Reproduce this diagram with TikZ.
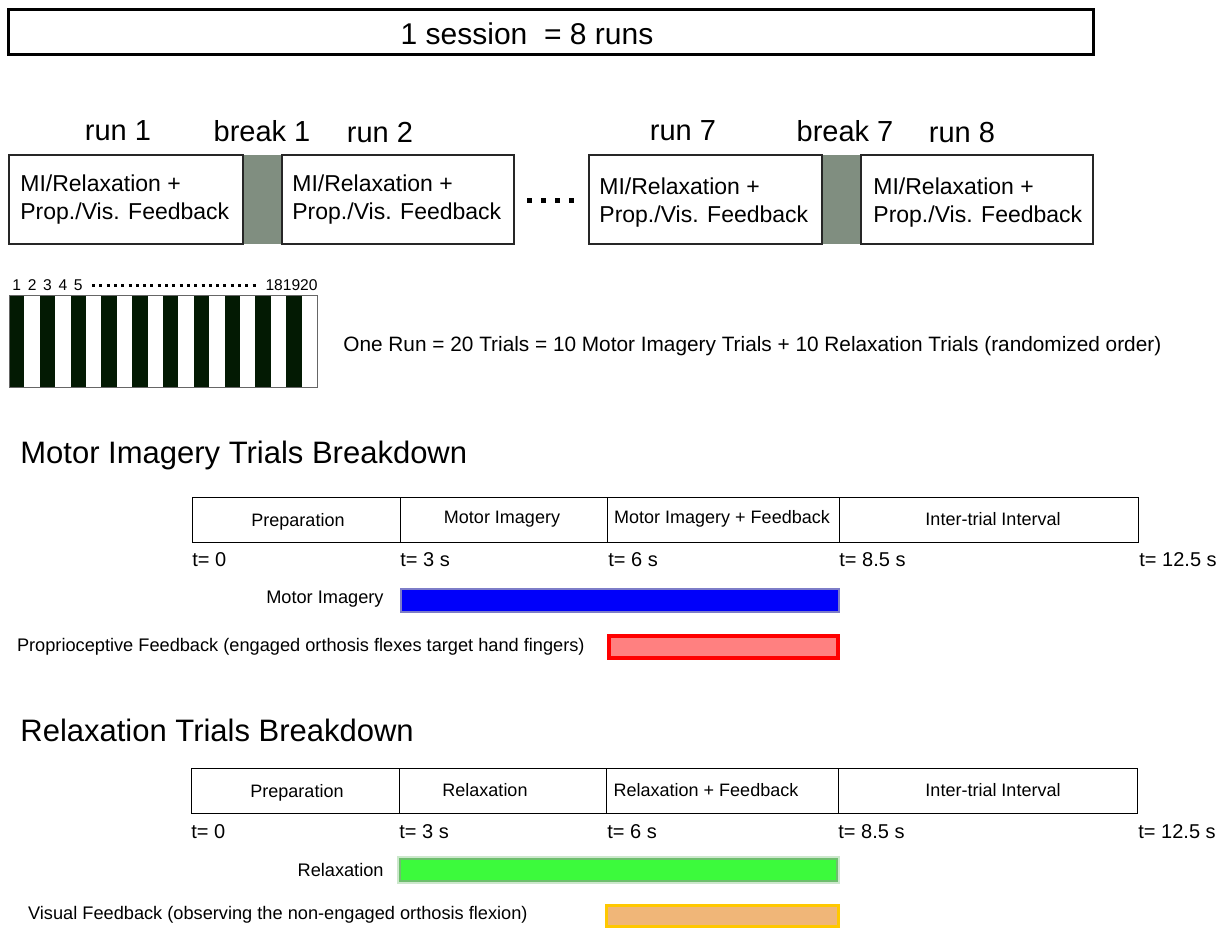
\documentclass[tikz,border=0pt]{standalone}
\usepackage{fontspec}
\setmainfont{Liberation Sans}
\usetikzlibrary{positioning}

\definecolor{breakgrey}{RGB}{128,142,128}
\definecolor{stripedark}{RGB}{3,26,3}
\definecolor{miblue}{RGB}{0,0,250}
\definecolor{miedge}{RGB}{125,125,200}
\definecolor{propfill}{RGB}{255,128,128}
\definecolor{relaxfill}{RGB}{60,250,60}
\definecolor{relaxedge}{RGB}{110,190,110}
\definecolor{visfill}{RGB}{240,182,120}
\definecolor{visedge}{RGB}{255,200,0}

\tikzset{
  runbox/.style={draw=black!85, line width=1pt},
  runtext/.style={anchor=west, inner sep=0pt, align=left, font=\fontsize{11.5}{14}\selectfont},
  runlabel/.style={inner sep=0pt, font=\fontsize{14.5}{17}\selectfont},
  phase/.style={draw=black, line width=0.5pt},
  phasetext/.style={inner sep=0pt, font=\fontsize{9}{11}\selectfont},
  tick/.style={anchor=west, inner sep=0pt, font=\fontsize{10}{12}\selectfont},
  barlabel/.style={anchor=east, inner sep=0pt, font=\fontsize{9.1}{11}\selectfont},
  heading/.style={anchor=west, inner sep=0pt, font=\fontsize{15.5}{18}\selectfont},
  trialnum/.style={inner sep=0pt, font=\fontsize{7.8}{9}\selectfont},
}

\begin{document}
\begin{tikzpicture}[x=0.5pt, y=-0.5pt]
        \useasboundingbox (0,0) rectangle (1224,929);

        % session
        \draw[line width=1.5pt] (8,10) rectangle (1093,55);
        \node (session) [inner sep=0pt, font=\fontsize{15}{18}\selectfont] at (527,34) {1 session \ = 8 runs};

        % runs and breaks
        \fill[breakgrey] (243,155) rectangle (282,244);
        \fill[breakgrey] (822,155) rectangle (861,244);
        \draw[runbox] (9,155) rectangle (243,244);
        \draw[runbox] (282,155) rectangle (514,244);
        \draw[runbox] (589,155) rectangle (822,244);
        \draw[runbox] (861,155) rectangle (1093,244);

        \node (run1) [runlabel] at (118,131) {run 1};
        \node (break1) [runlabel] at (262,131) {break 1};
        \node (run2) [runlabel] at (380,133) {run 2};
        \node (run7) [runlabel] at (683,131) {run 7};
        \node (break7) [runlabel] at (845,131) {break 7};
        \node (run8) [runlabel] at (962,133) {run 8};

        \node (txt1) [runtext] at (20,200) {MI/Relaxation +\\Prop./Vis. Feedback};
        \node (txt2) [runtext] at (292,200) {MI/Relaxation +\\Prop./Vis. Feedback};
        \node (txt7) [runtext] at (599,203) {MI/Relaxation +\\Prop./Vis. Feedback};
        \node (txt8) [runtext] at (873,203) {MI/Relaxation +\\Prop./Vis. Feedback};

        \draw[line width=2.5pt, dash pattern=on 2.5pt off 4.5pt] (527,201) -- (578,201);

        % trials in one run
        \foreach \i in {0,2,...,18}
        {
            \fill[stripedark] (9+\i*15.4,296) rectangle ++(15.4,92);
        }
        \draw[black!60, line width=0.5pt] (9,296) rectangle (317,388);
        \foreach \n in {1,...,5}
        {
            \node (num\n) [trialnum] at (9+\n*15.4-7.7,285) {\n};
        }
        \node (numlast) [trialnum, anchor=east] at (318,285) {181920};
        \draw[line width=1.5pt, dash pattern=on 1.5pt off 2.15pt] (92,286) -- (258,286);

        \node (onerun) [anchor=west, inner sep=0pt, font=\fontsize{10.4}{12}\selectfont] at (343,346)
            {One Run = 20 Trials = 10 Motor Imagery Trials + 10 Relaxation Trials (randomized order)};

        % motor imagery trial
        \node (mihead) [heading] at (20,455) {Motor Imagery Trials Breakdown};
        \foreach \a/\b in {192/400,400/607,607/839,839/1138}
        {
            \draw[phase] (\a,498) rectangle (\b,542);
        }
        \node (miprep) [phasetext] at (298,522) {Preparation};
        \node (mimi) [phasetext] at (502,519) {Motor Imagery};
        \node (mifb) [phasetext] at (722,519) {Motor Imagery + Feedback};
        \node (miiti) [phasetext] at (993,519) {Inter-trial Interval};

        \node (mit0) [tick] at (192,560) {t= 0};
        \node (mit3) [tick] at (400,560) {t= 3 s};
        \node (mit6) [tick] at (608,560) {t= 6 s};
        \node (mit85) [tick] at (839,560) {t= 8.5 s};
        \node (mit125) [tick] at (1139,560) {t= 12.5 s};

        \draw[line width=1pt, draw=miedge, fill=miblue] (401,589) rectangle (839,612);
        \node (milabel) [barlabel] at (384,599) {Motor Imagery};
        \draw[line width=2pt, draw=red, fill=propfill] (609,636) rectangle (838,658);
        \node (proplabel) [barlabel] at (585,647) {Proprioceptive Feedback (engaged orthosis flexes target hand fingers)};

        % relaxation trial
        \node (rxhead) [heading] at (20,730) {Relaxation Trials Breakdown};
        \foreach \a/\b in {191/399,399/606,606/838,838/1137}
        {
            \draw[phase] (\a,768) rectangle (\b,813);
        }
        \node (rxprep) [phasetext] at (297,793) {Preparation};
        \node (rxrx) [phasetext] at (485,790) {Relaxation};
        \node (rxfb) [phasetext] at (706,790) {Relaxation + Feedback};
        \node (rxiti) [phasetext] at (993,790) {Inter-trial Interval};

        \node (rxt0) [tick] at (191,832) {t= 0};
        \node (rxt3) [tick] at (399,832) {t= 3 s};
        \node (rxt6) [tick] at (607,832) {t= 6 s};
        \node (rxt85) [tick] at (838,832) {t= 8.5 s};
        \node (rxt125) [tick] at (1138,832) {t= 12.5 s};

        \draw[line width=3pt, draw=relaxedge, opacity=0.35] (400,859) rectangle (837,881);
        \draw[line width=1pt, draw=relaxedge, fill=relaxfill] (400,859) rectangle (837,881);
        \node (rxlabel) [barlabel] at (384,870) {Relaxation};
        \draw[line width=1.5pt, draw=visedge, fill=visfill] (606,905) rectangle (838,926);
        \node (vislabel) [barlabel] at (528,915) {Visual Feedback (observing the non-engaged orthosis flexion)};

\end{tikzpicture}
\end{document}
